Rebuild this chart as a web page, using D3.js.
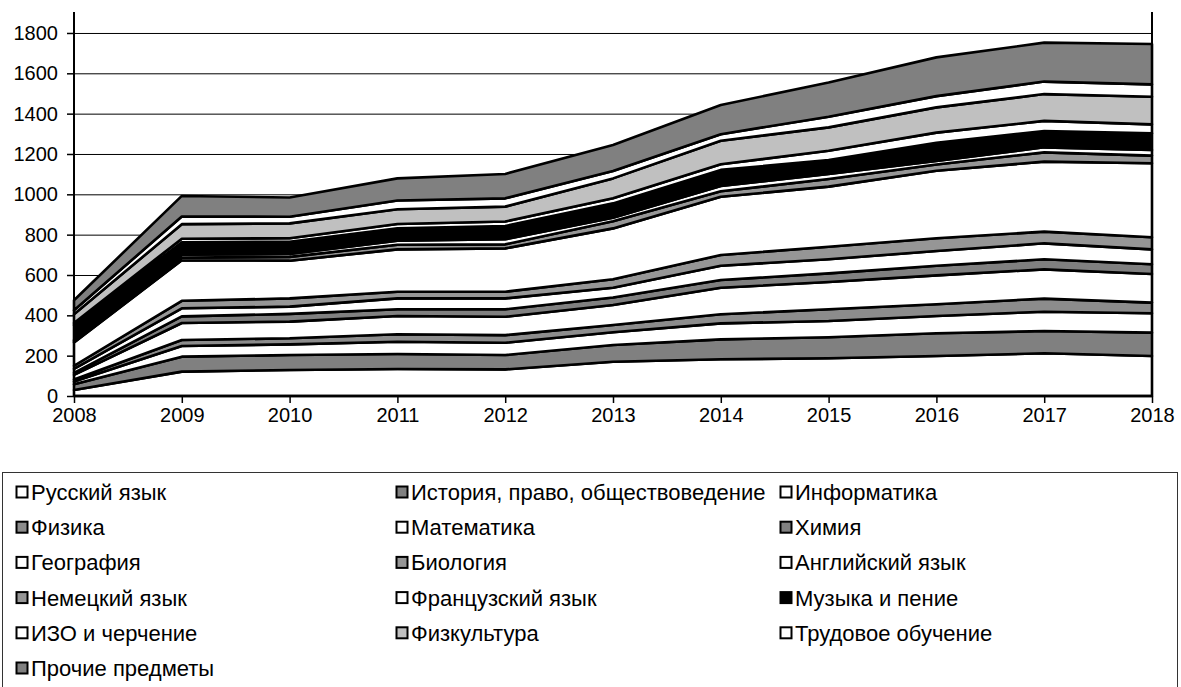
<!DOCTYPE html>
<html><head><meta charset="utf-8">
<script src="https://cdn.jsdelivr.net/npm/d3@7"></script>
<style>
html,body{margin:0;padding:0;background:#fff;}
text{font-family:"Liberation Sans",Arial,sans-serif;}
</style></head>
<body>
<svg id="chart" width="1181" height="687"></svg>
<script>
const years = [2008,2009,2010,2011,2012,2013,2014,2015,2016,2017,2018];
const yTicks = [0,200,400,600,800,1000,1200,1400,1600,1800];

const seriesNames = ["Русский язык","История, право, обществоведение","Информатика","Физика","Математика","Химия","География","Биология","Английский язык","Немецкий язык","Французский язык","Музыка и пение","ИЗО и черчение","Физкультура","Трудовое обучение","Прочие предметы"];
const seriesFill = ["#ffffff","#808080","#ffffff","#8c8c8c","#ffffff","#808080","#ffffff","#969696","#ffffff","#969696","#ffffff","#000000","#ffffff","#c0c0c0","#ffffff","#808080"];

const russkiy     = [30,121,129,134,132,170,182,187,198,212,198];
const istoriya    = [28,74,74,74,71,83,99,104,113,110,116];
const informatika = [14,53,53,61,61,63,79,81,86,96,96];
const fizika      = [10,30,30,37,38,36,45,58,58,65,53];
const matematika  = [23,84,83,91,91,99,132,135,143,145,142];
const himiya      = [10,33,38,33,37,37,38,43,48,50,48];
const geografiya  = [20,40,36,54,54,49,71,70,73,79,74];
const biologiya   = [15,37,41,33,33,42,53,62,63,58,60];
const angliyskiy  = [115,201,187,210,215,252,289,298,335,347,367];
const nemetskiy   = [7,13,19,23,20,35,27,38,31,46,38];
const frantsuzskiy= [6,14,14,20,25,18,26,25,17,25,28];
const muzyka      = [74,62,61,61,66,71,80,69,91,81,82];
const izo         = [10,18,17,22,22,25,28,46,50,50,45];
const fizkultura  = [43,72,74,73,74,99,117,116,125,133,137];
const trudovoe    = [20,38,33,43,41,37,32,53,56,62,61];
const prochie     = [50,102,95,110,121,129,145,169,192,193,200];

const seriesValues = [russkiy,istoriya,informatika,fizika,matematika,himiya,geografiya,biologiya,angliyskiy,nemetskiy,frantsuzskiy,muzyka,izo,fizkultura,trudovoe,prochie];

const table = years.map((yr,i)=>{
  const row = {year: yr};
  seriesNames.forEach((n,k)=>{ row[n] = seriesValues[k][i]; });
  return row;
});

const svg = d3.select("#chart");
const pL = 74, pR = 1152, pT = 12, pB = 396;
const x = d3.scaleLinear().domain([2008,2018]).range([pL,pR]);
const y = d3.scaleLinear().domain([0,1904]).range([pB,pT]);

// gridlines
svg.append("g")
  .attr("transform",`translate(${pL},0)`)
  .call(d3.axisLeft(y).tickValues(yTicks.slice(1)).tickSize(-(pR-pL)).tickFormat(""))
  .call(g=>g.select(".domain").remove())
  .call(g=>g.selectAll("line").attr("stroke","#000").attr("stroke-width",1));

const stack = d3.stack().keys(seriesNames);
const layers = stack(table);
const area = d3.area()
  .x(d=>x(d.data.year))
  .y0(d=>y(d[0]))
  .y1(d=>y(d[1]));

svg.append("g").selectAll("path")
  .data(layers)
  .join("path")
  .attr("d",area)
  .attr("fill",(d,i)=>seriesFill[i])
  .attr("stroke","#000")
  .attr("stroke-width",2.6)
  .attr("stroke-linejoin","round");

// right border
svg.append("line").attr("x1",pR).attr("x2",pR).attr("y1",pT).attr("y2",pB)
  .attr("stroke","#000").attr("stroke-width",2);

// y axis
const yAxis = svg.append("g")
  .attr("transform",`translate(${pL},0)`)
  .call(d3.axisLeft(y).tickValues(yTicks).tickSize(7).tickPadding(9).tickFormat(d3.format("d")));
yAxis.select(".domain").attr("d",`M0,${pT}V${pB}`).attr("stroke","#000").attr("stroke-width",2);
yAxis.selectAll("line").attr("stroke","#000").attr("stroke-width",1.5);
yAxis.selectAll("text").attr("font-size",20).attr("fill","#000").attr("font-family","Liberation Sans, Arial, sans-serif");

// x axis
const xAxis = svg.append("g")
  .attr("transform",`translate(0,${pB})`)
  .call(d3.axisBottom(x).tickValues(years).tickSize(7).tickPadding(5).tickFormat(d3.format("d")));
xAxis.select(".domain").attr("d",`M${pL},0H${pR}`).attr("stroke","#000").attr("stroke-width",2.5);
xAxis.selectAll("line").attr("stroke","#000").attr("stroke-width",1.5);
xAxis.selectAll("text").attr("font-size",20).attr("fill","#000").attr("font-family","Liberation Sans, Arial, sans-serif");

// legend
const lg = svg.append("g");
lg.append("rect").attr("x",2.5).attr("y",472.5).attr("width",1175).attr("height",230)
  .attr("fill","#fff").attr("stroke","#333").attr("stroke-width",1);
const colX = [22,402,786];
const rowY0 = 492, rowStep = 35.2;
seriesNames.forEach((n,i)=>{
  const c = i%3, r = Math.floor(i/3);
  const gx = colX[c], gy = rowY0 + r*rowStep;
  lg.append("rect").attr("x",gx-5.5).attr("y",gy-5.5).attr("width",11).attr("height",11)
    .attr("fill",seriesFill[i]).attr("stroke","#000").attr("stroke-width",2);
  lg.append("text").attr("x",gx+9).attr("y",gy).attr("dy","0.36em")
    .attr("font-size",22).attr("fill","#000").text(n);
});
</script>
</body></html>
